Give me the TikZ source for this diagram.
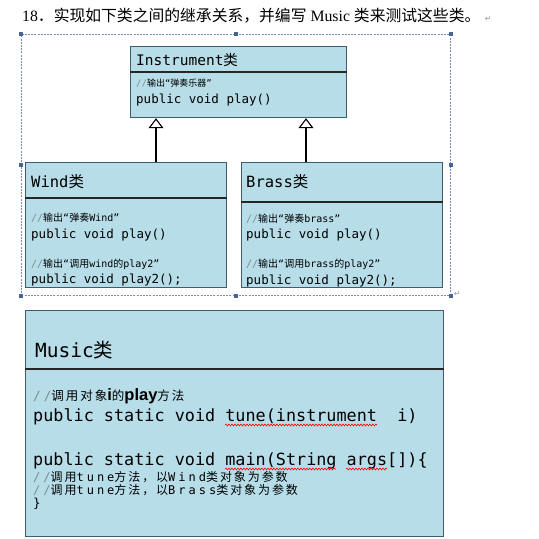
\documentclass[tikz,border=0pt]{standalone}
\usepackage{fontspec}
\setmainfont{Liberation Serif}
\newfontfamily\cjk{Noto Sans CJK SC}
\newfontfamily\cjkwide{Noto Sans CJK SC}[LetterSpace=16]
\newfontfamily\codefont{DejaVu Sans Mono}
\newfontfamily\codewide{DejaVu Sans Mono}[LetterSpace=25]
\newfontfamily\boldsans{Liberation Sans}
\newfontfamily\symfont{DejaVu Sans}
\usetikzlibrary{arrows.meta,decorations.pathmorphing,positioning}

\definecolor{boxfill}{RGB}{183,221,232}
\definecolor{boxedge}{RGB}{64,92,112}
\definecolor{frameline}{RGB}{112,140,190}
\definecolor{handlefill}{RGB}{72,100,150}
\definecolor{slashgray}{RGB}{120,140,150}

\newcommand{\slashes}{{\color{slashgray}//}}
\newcommand{\fsz}[1]{\fontsize{#1}{#1}\selectfont}

\begin{document}
\begin{tikzpicture}[x=1pt,y=-1pt]
    \tikzstyle{classbox}=[rectangle, draw=boxedge, fill=boxfill, line width=1.2pt, inner sep=0pt, anchor=north west]
    \tikzstyle{sepline}=[line width=1.6pt, black!85]
    \tikzstyle{selframe}=[rectangle, draw=frameline, line width=0.7pt, dash pattern=on 2pt off 1.2pt, inner sep=0pt, anchor=north west]
    \tikzstyle{handle}=[rectangle, fill=handlefill, minimum size=4pt, inner sep=0pt]
    \tikzstyle{codeline}=[anchor=base west, inner sep=0pt, font=\codefont]
    \tikzstyle{retmark}=[anchor=base west, inner sep=0pt, text=black!40, font=\symfont\fsz{8}]
    \tikzstyle{inherit}=[line width=1.5pt, -{Triangle[open, length=10pt, width=15pt, line width=1.1pt]}]
    \tikzstyle{typo}=[red, line width=0.6pt, decorate, decoration={snake, amplitude=0.9pt, segment length=3pt}]

    \useasboundingbox (0,0) rectangle (539,539);

    % title
    \node[anchor=base west, inner sep=0pt, font=\fsz{15.8}] (title) at (22,21)
        {18{\cjk ．实现如下类之间的继承关系，并编写} Music {\cjk 类来测试这些类。}};
    \node[retmark] (titleret) at ([xshift=4pt]title.base east) {↵};

    % selection frame
    \node[selframe, minimum width=429pt, minimum height=261pt] (frame) at (21,34) {};
    \foreach \a/\n in {north west/nw, north/n, north east/ne, west/w, east/e, south west/sw, south/s, south east/se}
        \node[handle] (h\n) at (frame.\a) {};
    \node[retmark] (frameret) at ([xshift=3pt,yshift=-1pt]frame.south east) {↵};

    % Instrument
    \node[classbox, minimum width=216pt, minimum height=71pt] (instr) at (130,46) {};
    \draw[sepline] ([yshift=-26pt]instr.north west) -- ([yshift=-26pt]instr.north east);
    \node[codeline] (instrname) at (136,65) {\fsz{14.5}Instrument{\cjk 类}};
    \node[codeline] (instrnote) at (136,86) {\fsz{9}\slashes{\cjk 输出}“{\cjk 弹奏乐器}”};
    \node[codeline] (instrplay) at (136,103) {\fsz{12.5}public void play()};

    % Wind
    \node[classbox, minimum width=201pt, minimum height=125pt] (wind) at (25,162) {};
    \draw[sepline] ([yshift=-36pt]wind.north west) -- ([yshift=-36pt]wind.north east);
    \node[codeline] (windname) at (31,187) {\fsz{15.5}Wind{\cjk 类}};
    \node[codeline] (windnote) at (31,221) {\fsz{10}\slashes{\cjk 输出}“{\cjk 弹奏}Wind”};
    \node[codeline] (windplay) at (31,238) {\fsz{12.5}public void play()};
    \node[codeline] (windnote2) at (31,267) {\fsz{10}\slashes{\cjk 输出}“{\cjk 调用}wind{\cjk 的}play2”};
    \node[codeline] (windplay2) at (31,283) {\fsz{12.5}public void play2();};

    % Brass
    \node[classbox, minimum width=201pt, minimum height=125pt] (brass) at (241,162) {};
    \draw[sepline] ([yshift=-40pt]brass.north west) -- ([yshift=-40pt]brass.north east);
    \node[codeline] (brassname) at (246,187) {\fsz{15.5}Brass{\cjk 类}};
    \node[codeline] (brassnote) at (246,222) {\fsz{10}\slashes{\cjk 输出}“{\cjk 弹奏}brass”};
    \node[codeline] (brassplay) at (246,238) {\fsz{12.5}public void play()};
    \node[codeline] (brassnote2) at (246,267) {\fsz{10}\slashes{\cjk 输出}“{\cjk 调用}brass{\cjk 的}play2”};
    \node[codeline] (brassplay2) at (246,284) {\fsz{12.5}public void play2();};

    % inheritance
    \coordinate (windjoin) at (156,162);
    \coordinate (brassjoin) at (306,162);
    \draw[inherit] (windjoin) -- (windjoin |- instr.south);
    \draw[inherit] (brassjoin) -- (brassjoin |- instr.south);

    % Music
    \node[classbox, minimum width=418pt, minimum height=226pt] (music) at (25,310) {};
    \draw[sepline] ([yshift=-59pt]music.north west) -- ([yshift=-59pt]music.north east);
    \node[codeline] (musicname) at (35,357) {\fsz{19.5}Music{\cjk 类}};
    \node[codeline] (tunenote) at (33,400) {\codewide\fsz{12.5}\slashes{\cjkwide 调用对象}{\boldsans\bfseries\fsz{16.5}i}{\cjkwide 的}{\boldsans\bfseries\fsz{16.5}play}{\cjkwide 方法}};
    \node[codeline] (tune) at (33,421) {\fsz{16.8}public static void tune(instrument\ \ i)};
    \node[codeline] (main) at (33,465) {\fsz{16.8}public static void main(String args[])\{};
    \node[codeline] (windcall) at (33,481) {\codewide\fsz{12}\slashes{\cjkwide 调用}tune{\cjkwide 方法，以}Wind{\cjkwide 类对象为参数}};
    \node[codeline] (brasscall) at (33,494.5) {\codewide\fsz{12}\slashes{\cjkwide 调用}tune{\cjkwide 方法，以}Brass{\cjkwide 类对象为参数}};
    \node[codeline] (mainend) at (33,507) {\fsz{12.5}\}};

    % spelling marks
    \draw[typo] (225,425) -- (377,425);
    \draw[typo] (225,469) -- (336,469);
    \draw[typo] (346,469) -- (387,469);
\end{tikzpicture}
\end{document}
